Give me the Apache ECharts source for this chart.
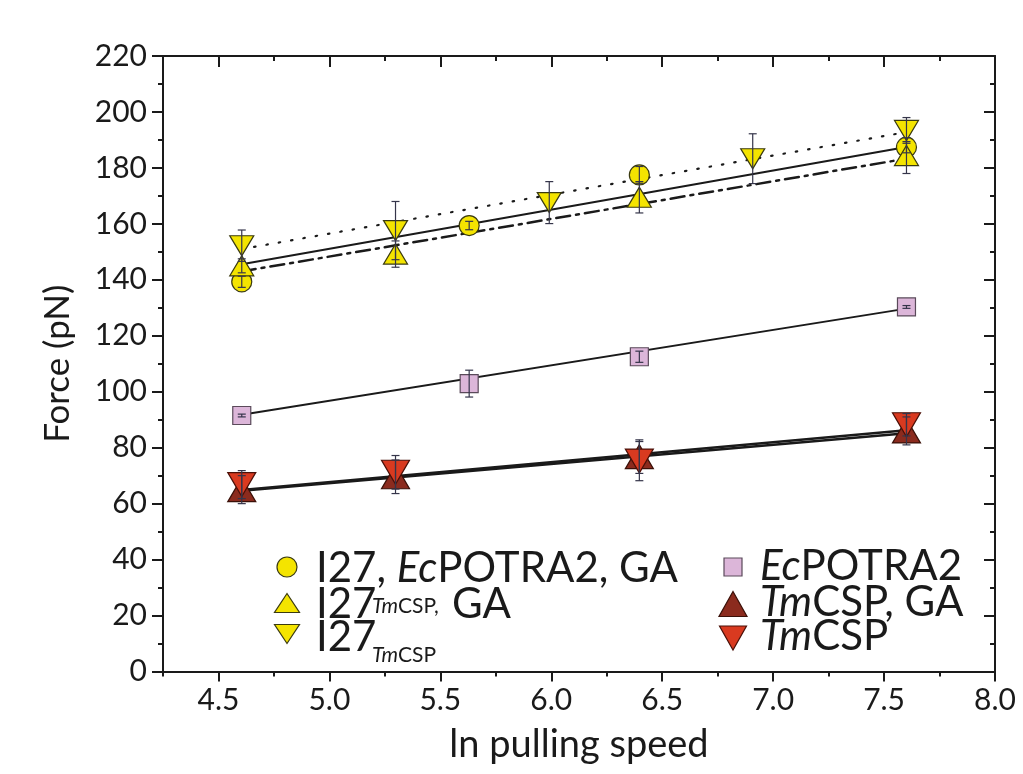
<!doctype html>
<html>
<head>
<meta charset="utf-8">
<script src="https://cdn.jsdelivr.net/npm/echarts@6/dist/echarts.min.js"></script>
<style>
    html, body { margin: 0; padding: 0; background: #fff; }
    #main { width: 1023px; height: 774px; }
</style>
</head>
<body>
<div id="main"></div>
<script>
// tick labels
var xTicks = [4.5, 5.0, 5.5, 6.0, 6.5, 7.0, 7.5, 8.0];

// I27, EcPOTRA2, GA (circles)
var circX = [4.605, 5.63, 6.397, 7.601];
var circY = [139.3, 159.4, 177.5, 187.4];
var circErr = [2, 1.5, 3, 2];
// I27_TmCSP, GA (up triangles)
var upX = [4.605, 5.298, 6.397, 7.601];
var upY = [145, 149.2, 169.5, 184.4];
var upErr = [2.5, 4.7, 5.6, 6.4];
// I27_TmCSP (down triangles)
var downX = [4.605, 5.298, 5.991, 6.908, 7.601];
var downY = [152.2, 157.6, 167.6, 183.3, 193.4];
var downErr = [5.6, 10.4, 7.5, 8.9, 4.6];
// EcPOTRA2 (squares)
var sqX = [4.605, 5.63, 6.397, 7.601];
var sqY = [91.5, 102.9, 112.5, 130.3];
var sqErr = [0.5, 4.8, 2, 0.5];
// TmCSP, GA (dark red up triangles)
var dkX = [4.605, 5.298, 6.397, 7.601];
var dkY = [65, 69.6, 76.8, 86];
var dkErr = [5, 6, 6, 5];
// TmCSP (red down triangles)
var rdX = [4.605, 5.298, 6.397, 7.601];
var rdY = [66.8, 71.2, 75.2, 88.2];
var rdErr = [5, 6, 7, 4];

// fitted lines (end points)
var fitX = [4.605, 7.601];
var fitDown = [151, 192.8];
var fitCirc = [145.6, 187.5];
var fitUp = [143, 183.3];
var fitSq = [91.8, 129.7];
var fitDk = [64.6, 85.2];
var fitRd = [64.9, 86.2];

var FONT = 'Lato, "Open Sans", sans-serif';
var ink = '#1a1a1a';
var yellow = '#f4e400';
var pink = '#dcb6d9';
var darkRed = '#8b2b1e';
var red = '#d93a20';

function pairs(xs, ys) {
    return xs.map(function (x, i) { return [x, ys[i]]; });
}

function errSeries(xs, ys, errs) {
    return {
        type: 'custom',
        silent: true,
        z: 5,
        data: xs.map(function (x, i) { return [x, ys[i] - errs[i], ys[i] + errs[i]]; }),
        encode: { x: 0, y: [1, 2] },
        renderItem: function (params, api) {
            var lo = api.coord([api.value(0), api.value(1)]);
            var hi = api.coord([api.value(0), api.value(2)]);
            var hw = 4;
            var st = { stroke: '#35354a', lineWidth: 1.2 };
            return {
                type: 'group',
                children: [
                    { type: 'line', shape: { x1: lo[0], y1: lo[1], x2: hi[0], y2: hi[1] }, style: st },
                    { type: 'line', shape: { x1: lo[0] - hw, y1: lo[1], x2: lo[0] + hw, y2: lo[1] }, style: st },
                    { type: 'line', shape: { x1: hi[0] - hw, y1: hi[1], x2: hi[0] + hw, y2: hi[1] }, style: st }
                ]
            };
        }
    };
}

function fitLine(ys, type, width) {
    return {
        type: 'line',
        data: pairs(fitX, ys),
        symbol: 'none',
        z: 2,
        silent: true,
        lineStyle: { color: ink, width: width || 2, type: type || 'solid', cap: 'round' }
    };
}

function scatter(xs, ys, symbol, size, color, border, rotate) {
    return {
        type: 'scatter',
        data: pairs(xs, ys),
        symbol: symbol,
        symbolSize: size,
        symbolRotate: rotate || 0,
        z: 3,
        itemStyle: { color: color, borderColor: border, borderWidth: 1.2, opacity: 1 }
    };
}

function xAx(pos, major) {
    var a = {
        type: 'value', position: pos, min: 4.25, max: 8,
        splitLine: { show: false },
        axisLine: { show: !major, onZero: false, lineStyle: { color: ink, width: 2 } },
        axisTick: { inside: pos === 'top', length: major ? (pos === 'top' ? 11 : 10) : 5, lineStyle: { color: ink, width: 2 } },
        axisLabel: { show: false }
    };
    if (major) {
        a.axisTick.customValues = xTicks;
        if (pos === 'bottom') {
            a.axisLabel = { show: true, customValues: xTicks, fontFamily: FONT, fontSize: 30, color: ink, margin: 14,
                formatter: function (v) { return v.toFixed(1); } };
            a.name = 'ln pulling speed';
            a.nameLocation = 'middle';
            a.nameGap = 54;
            a.nameTextStyle = { fontFamily: FONT, fontSize: 38, color: ink };
        }
    } else {
        a.interval = 0.25;
    }
    return a;
}

function yAx(pos, major) {
    var a = {
        type: 'value', position: pos, min: 0, max: 220, interval: major ? 20 : 10,
        splitLine: { show: false },
        axisLine: { show: !major, onZero: false, lineStyle: { color: ink, width: 2 } },
        axisTick: { inside: pos === 'right', length: major ? 11 : 5, lineStyle: { color: ink, width: 2 } },
        axisLabel: { show: false }
    };
    if (major && pos === 'left') {
        a.axisLabel = { show: true, fontFamily: FONT, fontSize: 30, color: ink, margin: 16 };
        a.name = 'Force (pN)';
        a.nameLocation = 'middle';
        a.nameGap = 88;
        a.nameTextStyle = { fontFamily: FONT, fontSize: 35, color: ink };
    }
    return a;
}

function txt(x, y, text, size, italic) {
    return {
        type: 'text', x: x, y: y, z: 100,
        style: { text: text, fill: ink, font: (italic ? 'italic ' : '') + size + 'px ' + FONT, verticalAlign: 'middle' }
    };
}

function rich(x, y, text, size) {
    return {
        type: 'text', x: x, y: y, z: 100,
        style: {
            text: text, verticalAlign: 'middle', fill: ink,
            rich: {
                n: { fontFamily: FONT, fontSize: size, color: ink },
                i: { fontFamily: FONT, fontSize: size, color: ink, fontStyle: 'italic' }
            }
        }
    };
}

function tri(cx, cy, w, h, down, fill, stroke) {
    var pts = down
        ? [[cx - w / 2, cy - h / 2], [cx + w / 2, cy - h / 2], [cx, cy + h / 2]]
        : [[cx, cy - h / 2], [cx + w / 2, cy + h / 2], [cx - w / 2, cy + h / 2]];
    return { type: 'polygon', z: 100, shape: { points: pts }, style: { fill: fill, stroke: stroke, lineWidth: 1.2 } };
}

var legendGraphics = [
    { type: 'circle', z: 100, shape: { cx: 287, cy: 567, r: 10 }, style: { fill: yellow, stroke: '#3a3a10', lineWidth: 1.2 } },
    rich(316, 568, '{n|I27, }{i|Ec}{n|POTRA2, GA}', 42),
    tri(287, 603, 25, 19, false, yellow, '#3a3a10'),
    txt(316, 604, 'I27', 42),
    rich(372, 606, '{i|Tm}{n|CSP,}', 21),
    txt(452, 604, 'GA', 42),
    tri(287, 634, 25, 19, true, yellow, '#3a3a10'),
    txt(316, 637, 'I27', 42),
    rich(372, 655, '{i|Tm}{n|CSP}', 21),

    { type: 'rect', z: 100, shape: { x: 724, y: 558, width: 18, height: 18 }, style: { fill: pink, stroke: '#5a4a5a', lineWidth: 1.2 } },
    rich(760, 566, '{i|Ec}{n|POTRA2}', 42),
    tri(733, 604, 28, 25, false, darkRed, '#3a1008'),
    rich(760, 602, '{i|Tm}{n|CSP, GA}', 42),
    tri(733, 638, 27, 24, true, red, '#4a1008'),
    rich(760, 636, '{i|Tm}{n|CSP}', 42)
];

var chart = echarts.init(document.getElementById('main'));
chart.setOption({
    backgroundColor: '#fff',
    animation: false,
    grid: { left: 163, right: 28, top: 56, bottom: 102.5, outerBoundsMode: 'none' },
    xAxis: [xAx('bottom', false), xAx('bottom', true), xAx('top', false), xAx('top', true)],
    yAxis: [yAx('left', false), yAx('left', true), yAx('right', false), yAx('right', true)],
    graphic: legendGraphics,
    series: [
        fitLine(fitDown, [1.5, 11], 2.2),
        fitLine(fitCirc, 'solid', 2),
        fitLine(fitUp, [14, 6, 3, 6], 2.5),
        fitLine(fitSq, 'solid', 2),
        fitLine(fitDk, 'solid', 2.5),
        fitLine(fitRd, 'solid', 2.5),
        scatter(circX, circY, 'circle', 20, yellow, '#3a3a10'),
        scatter(upX, upY, 'triangle', [24, 20], yellow, '#3a3a10'),
        scatter(downX, downY, 'triangle', [24, 20], yellow, '#3a3a10', 180),
        scatter(sqX, sqY, 'rect', 18, pink, '#5a4a5a'),
        scatter(dkX, dkY, 'triangle', [28, 24], darkRed, '#3a1008'),
        scatter(rdX, rdY, 'triangle', [28, 24], red, '#4a1008', 180),
        errSeries(circX, circY, circErr),
        errSeries(upX, upY, upErr),
        errSeries(downX, downY, downErr),
        errSeries(sqX, sqY, sqErr),
        errSeries(dkX, dkY, dkErr),
        errSeries(rdX, rdY, rdErr)
    ]
});
</script>
</body>
</html>
